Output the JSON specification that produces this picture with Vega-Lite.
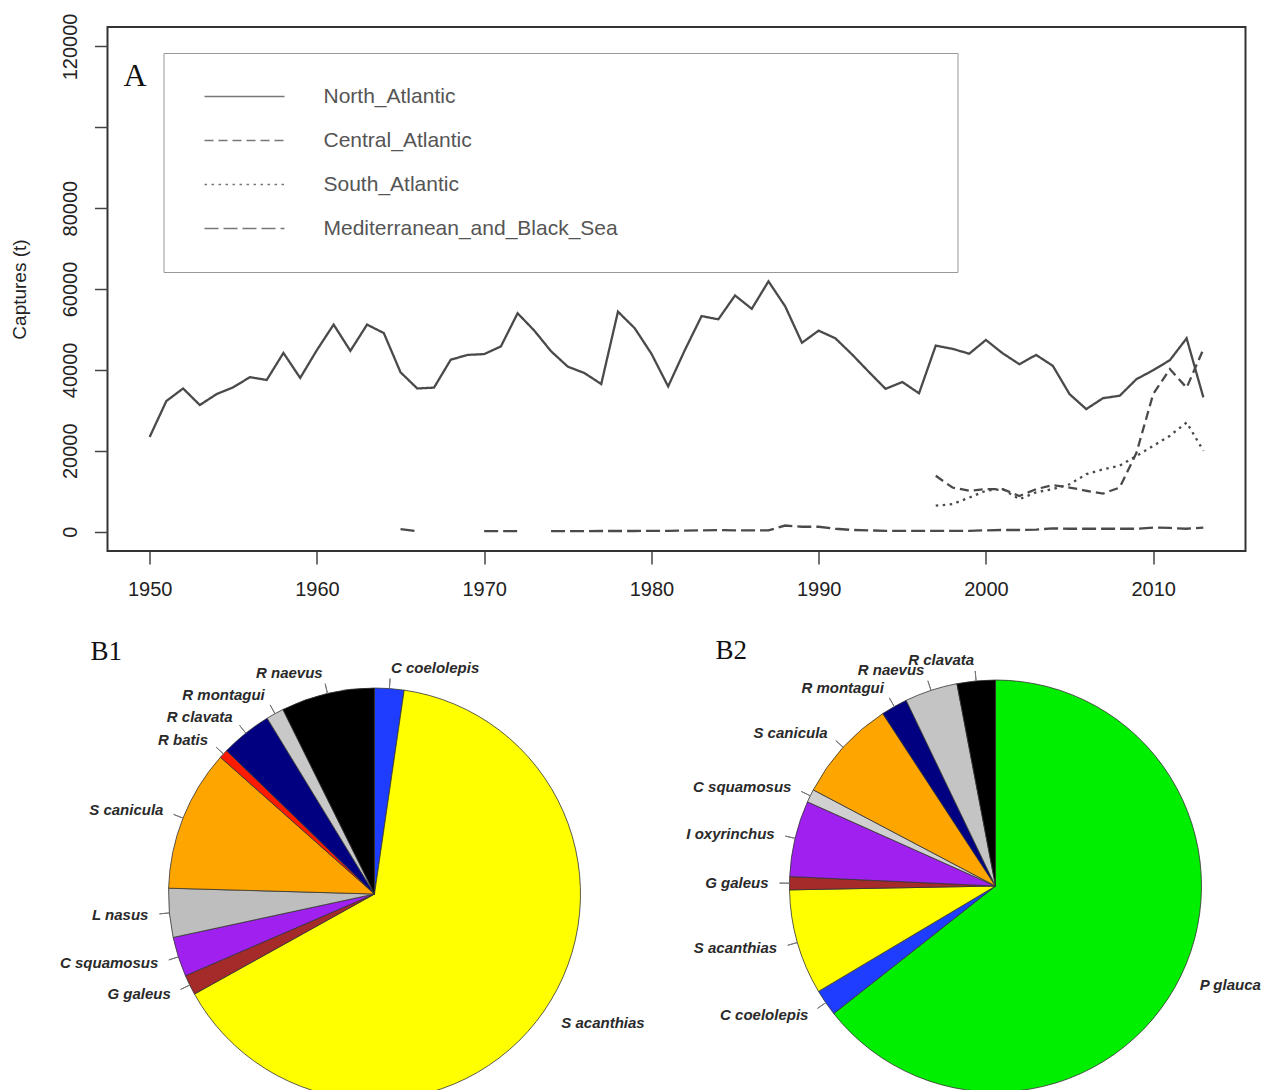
{
  "$schema": "https://vega.github.io/schema/vega-lite/v6.json",
  "padding": {"left": 8.5, "top": 12, "right": 5, "bottom": 0},
  "background": "white",
  "config": {"view": {"stroke": null}, "font": "Liberation Sans"},
  "datasets": {
    "lines": [
      {"year": 1950, "region": "North_Atlantic", "t": 23400},
      {"year": 1951, "region": "North_Atlantic", "t": 32300},
      {"year": 1952, "region": "North_Atlantic", "t": 35400},
      {"year": 1953, "region": "North_Atlantic", "t": 31300},
      {"year": 1954, "region": "North_Atlantic", "t": 34000},
      {"year": 1955, "region": "North_Atlantic", "t": 35700},
      {"year": 1956, "region": "North_Atlantic", "t": 38200},
      {"year": 1957, "region": "North_Atlantic", "t": 37500},
      {"year": 1958, "region": "North_Atlantic", "t": 44200},
      {"year": 1959, "region": "North_Atlantic", "t": 38000},
      {"year": 1960, "region": "North_Atlantic", "t": 44900},
      {"year": 1961, "region": "North_Atlantic", "t": 51200},
      {"year": 1962, "region": "North_Atlantic", "t": 44700},
      {"year": 1963, "region": "North_Atlantic", "t": 51200},
      {"year": 1964, "region": "North_Atlantic", "t": 49100},
      {"year": 1965, "region": "North_Atlantic", "t": 39400},
      {"year": 1966, "region": "North_Atlantic", "t": 35400},
      {"year": 1967, "region": "North_Atlantic", "t": 35600},
      {"year": 1968, "region": "North_Atlantic", "t": 42500},
      {"year": 1969, "region": "North_Atlantic", "t": 43700},
      {"year": 1970, "region": "North_Atlantic", "t": 43900},
      {"year": 1971, "region": "North_Atlantic", "t": 45800},
      {"year": 1972, "region": "North_Atlantic", "t": 54000},
      {"year": 1973, "region": "North_Atlantic", "t": 49700},
      {"year": 1974, "region": "North_Atlantic", "t": 44600},
      {"year": 1975, "region": "North_Atlantic", "t": 40800},
      {"year": 1976, "region": "North_Atlantic", "t": 39200},
      {"year": 1977, "region": "North_Atlantic", "t": 36500},
      {"year": 1978, "region": "North_Atlantic", "t": 54400},
      {"year": 1979, "region": "North_Atlantic", "t": 50300},
      {"year": 1980, "region": "North_Atlantic", "t": 44000},
      {"year": 1981, "region": "North_Atlantic", "t": 35900},
      {"year": 1982, "region": "North_Atlantic", "t": 44900},
      {"year": 1983, "region": "North_Atlantic", "t": 53300},
      {"year": 1984, "region": "North_Atlantic", "t": 52500},
      {"year": 1985, "region": "North_Atlantic", "t": 58400},
      {"year": 1986, "region": "North_Atlantic", "t": 55100},
      {"year": 1987, "region": "North_Atlantic", "t": 61900},
      {"year": 1988, "region": "North_Atlantic", "t": 55700},
      {"year": 1989, "region": "North_Atlantic", "t": 46700},
      {"year": 1990, "region": "North_Atlantic", "t": 49700},
      {"year": 1991, "region": "North_Atlantic", "t": 47800},
      {"year": 1992, "region": "North_Atlantic", "t": 43800},
      {"year": 1993, "region": "North_Atlantic", "t": 39500},
      {"year": 1994, "region": "North_Atlantic", "t": 35300},
      {"year": 1995, "region": "North_Atlantic", "t": 37000},
      {"year": 1996, "region": "North_Atlantic", "t": 34200},
      {"year": 1997, "region": "North_Atlantic", "t": 46000},
      {"year": 1998, "region": "North_Atlantic", "t": 45200},
      {"year": 1999, "region": "North_Atlantic", "t": 44000},
      {"year": 2000, "region": "North_Atlantic", "t": 47400},
      {"year": 2001, "region": "North_Atlantic", "t": 44100},
      {"year": 2002, "region": "North_Atlantic", "t": 41400},
      {"year": 2003, "region": "North_Atlantic", "t": 43700},
      {"year": 2004, "region": "North_Atlantic", "t": 41000},
      {"year": 2005, "region": "North_Atlantic", "t": 34000},
      {"year": 2006, "region": "North_Atlantic", "t": 30300},
      {"year": 2007, "region": "North_Atlantic", "t": 33000},
      {"year": 2008, "region": "North_Atlantic", "t": 33600},
      {"year": 2009, "region": "North_Atlantic", "t": 37700},
      {"year": 2010, "region": "North_Atlantic", "t": 39900},
      {"year": 2011, "region": "North_Atlantic", "t": 42400},
      {"year": 2012, "region": "North_Atlantic", "t": 47800},
      {"year": 2013, "region": "North_Atlantic", "t": 33200},
      {"year": 1997, "region": "Central_Atlantic", "t": 13800},
      {"year": 1998, "region": "Central_Atlantic", "t": 10900},
      {"year": 1999, "region": "Central_Atlantic", "t": 10100},
      {"year": 2000, "region": "Central_Atlantic", "t": 10500},
      {"year": 2001, "region": "Central_Atlantic", "t": 10500},
      {"year": 2002, "region": "Central_Atlantic", "t": 8800},
      {"year": 2003, "region": "Central_Atlantic", "t": 10500},
      {"year": 2004, "region": "Central_Atlantic", "t": 11500},
      {"year": 2005, "region": "Central_Atlantic", "t": 10900},
      {"year": 2006, "region": "Central_Atlantic", "t": 10100},
      {"year": 2007, "region": "Central_Atlantic", "t": 9400},
      {"year": 2008, "region": "Central_Atlantic", "t": 10900},
      {"year": 2009, "region": "Central_Atlantic", "t": 19500},
      {"year": 2010, "region": "Central_Atlantic", "t": 34000},
      {"year": 2011, "region": "Central_Atlantic", "t": 40200},
      {"year": 2012, "region": "Central_Atlantic", "t": 35600},
      {"year": 2013, "region": "Central_Atlantic", "t": 45100},
      {"year": 1997, "region": "South_Atlantic", "t": 6400},
      {"year": 1998, "region": "South_Atlantic", "t": 6800},
      {"year": 1999, "region": "South_Atlantic", "t": 8400},
      {"year": 2000, "region": "South_Atlantic", "t": 10100},
      {"year": 2001, "region": "South_Atlantic", "t": 10500},
      {"year": 2002, "region": "South_Atlantic", "t": 8000},
      {"year": 2003, "region": "South_Atlantic", "t": 9700},
      {"year": 2004, "region": "South_Atlantic", "t": 10500},
      {"year": 2005, "region": "South_Atlantic", "t": 11700},
      {"year": 2006, "region": "South_Atlantic", "t": 14200},
      {"year": 2007, "region": "South_Atlantic", "t": 15400},
      {"year": 2008, "region": "South_Atlantic", "t": 16300},
      {"year": 2009, "region": "South_Atlantic", "t": 18700},
      {"year": 2010, "region": "South_Atlantic", "t": 21200},
      {"year": 2011, "region": "South_Atlantic", "t": 23700},
      {"year": 2012, "region": "South_Atlantic", "t": 27000},
      {"year": 2013, "region": "South_Atlantic", "t": 20000},
      {"year": 1965, "region": "Mediterranean_and_Black_Sea", "t": 600},
      {"year": 1966, "region": "Mediterranean_and_Black_Sea", "t": 100},
      {"year": 1967, "region": "Mediterranean_and_Black_Sea", "t": null},
      {"year": 1968, "region": "Mediterranean_and_Black_Sea", "t": null},
      {"year": 1969, "region": "Mediterranean_and_Black_Sea", "t": null},
      {"year": 1970, "region": "Mediterranean_and_Black_Sea", "t": 100},
      {"year": 1971, "region": "Mediterranean_and_Black_Sea", "t": 100},
      {"year": 1972, "region": "Mediterranean_and_Black_Sea", "t": 100},
      {"year": 1973, "region": "Mediterranean_and_Black_Sea", "t": null},
      {"year": 1974, "region": "Mediterranean_and_Black_Sea", "t": 100},
      {"year": 1975, "region": "Mediterranean_and_Black_Sea", "t": 100},
      {"year": 1976, "region": "Mediterranean_and_Black_Sea", "t": 100},
      {"year": 1977, "region": "Mediterranean_and_Black_Sea", "t": 150},
      {"year": 1978, "region": "Mediterranean_and_Black_Sea", "t": 150},
      {"year": 1979, "region": "Mediterranean_and_Black_Sea", "t": 150},
      {"year": 1980, "region": "Mediterranean_and_Black_Sea", "t": 200},
      {"year": 1981, "region": "Mediterranean_and_Black_Sea", "t": 200},
      {"year": 1982, "region": "Mediterranean_and_Black_Sea", "t": 250},
      {"year": 1983, "region": "Mediterranean_and_Black_Sea", "t": 300},
      {"year": 1984, "region": "Mediterranean_and_Black_Sea", "t": 350},
      {"year": 1985, "region": "Mediterranean_and_Black_Sea", "t": 300},
      {"year": 1986, "region": "Mediterranean_and_Black_Sea", "t": 300},
      {"year": 1987, "region": "Mediterranean_and_Black_Sea", "t": 300},
      {"year": 1988, "region": "Mediterranean_and_Black_Sea", "t": 1500},
      {"year": 1989, "region": "Mediterranean_and_Black_Sea", "t": 1200},
      {"year": 1990, "region": "Mediterranean_and_Black_Sea", "t": 1200},
      {"year": 1991, "region": "Mediterranean_and_Black_Sea", "t": 700},
      {"year": 1992, "region": "Mediterranean_and_Black_Sea", "t": 400},
      {"year": 1993, "region": "Mediterranean_and_Black_Sea", "t": 300},
      {"year": 1994, "region": "Mediterranean_and_Black_Sea", "t": 200},
      {"year": 1995, "region": "Mediterranean_and_Black_Sea", "t": 200},
      {"year": 1996, "region": "Mediterranean_and_Black_Sea", "t": 200},
      {"year": 1997, "region": "Mediterranean_and_Black_Sea", "t": 200},
      {"year": 1998, "region": "Mediterranean_and_Black_Sea", "t": 200},
      {"year": 1999, "region": "Mediterranean_and_Black_Sea", "t": 200},
      {"year": 2000, "region": "Mediterranean_and_Black_Sea", "t": 300},
      {"year": 2001, "region": "Mediterranean_and_Black_Sea", "t": 400},
      {"year": 2002, "region": "Mediterranean_and_Black_Sea", "t": 400},
      {"year": 2003, "region": "Mediterranean_and_Black_Sea", "t": 500},
      {"year": 2004, "region": "Mediterranean_and_Black_Sea", "t": 800},
      {"year": 2005, "region": "Mediterranean_and_Black_Sea", "t": 700},
      {"year": 2006, "region": "Mediterranean_and_Black_Sea", "t": 700},
      {"year": 2007, "region": "Mediterranean_and_Black_Sea", "t": 700},
      {"year": 2008, "region": "Mediterranean_and_Black_Sea", "t": 700},
      {"year": 2009, "region": "Mediterranean_and_Black_Sea", "t": 700},
      {"year": 2010, "region": "Mediterranean_and_Black_Sea", "t": 1000},
      {"year": 2011, "region": "Mediterranean_and_Black_Sea", "t": 900},
      {"year": 2012, "region": "Mediterranean_and_Black_Sea", "t": 700},
      {"year": 2013, "region": "Mediterranean_and_Black_Sea", "t": 1000}
    ],
    "b1": [
      {"species": "C coelolepis", "pct": 2.3},
      {"species": "S acanthias", "pct": 64.6},
      {"species": "G galeus", "pct": 1.58},
      {"species": "C squamosus", "pct": 3.11},
      {"species": "L nasus", "pct": 3.83},
      {"species": "S canicula", "pct": 11.1},
      {"species": "R batis", "pct": 0.69},
      {"species": "R clavata", "pct": 4.03},
      {"species": "R montagui", "pct": 1.39},
      {"species": "R naevus", "pct": 7.33}
    ],
    "b2": [
      {"species": "P glauca", "pct": 64.4},
      {"species": "C coelolepis", "pct": 2.08},
      {"species": "S acanthias", "pct": 8.25},
      {"species": "G galeus", "pct": 1.03},
      {"species": "I oxyrinchus", "pct": 5.97},
      {"species": "C squamosus", "pct": 1.03},
      {"species": "S canicula", "pct": 8.06},
      {"species": "R montagui", "pct": 2.08},
      {"species": "R naevus", "pct": 4.14},
      {"species": "R clavata", "pct": 3.0}
    ]
  },
  "vconcat": [
    {
      "width": 1138,
      "height": 524,
      "view": {"stroke": "#333333", "strokeWidth": 2},
      "title": {"text": "A", "anchor": "start", "frame": "group", "font": "Liberation Serif", "fontSize": 32, "fontWeight": "normal", "color": "#111111", "dx": 16, "dy": 105, "offset": 0, "baseline": "alphabetic"},
      "data": {"name": "lines"},
      "mark": {"type": "line", "color": "#4a4a4a", "strokeWidth": 2.3},
      "encoding": {
        "x": {
          "field": "year", "type": "quantitative",
          "scale": {"domain": [1947.48, 2015.52], "nice": false, "zero": false},
          "axis": {"values": [1950, 1960, 1970, 1980, 1990, 2000, 2010], "format": "d", "title": null, "domain": false, "grid": false, "tickSize": 13, "tickWidth": 1.5, "tickColor": "#444444", "labelFontSize": 20, "labelColor": "#222222", "labelPadding": 15, "labelOverlap": false, "labelFlush": false}
        },
        "y": {
          "field": "t", "type": "quantitative",
          "scale": {"domain": [-4800, 124800], "nice": false, "zero": false},
          "axis": {"values": [0, 20000, 40000, 60000, 80000, 100000, 120000], "format": "d", "labelExpr": "datum.value == 100000 ? '' : datum.label", "title": "Captures (t)", "titleFontSize": 19, "titleFontWeight": "normal", "titleColor": "#222222", "titlePadding": 31.5, "labelAngle": -90, "labelAlign": "center", "labelBaseline": "bottom", "labelFontSize": 20, "labelColor": "#222222", "labelPadding": 14, "labelOverlap": false, "labelFlush": false, "domain": false, "grid": false, "tickSize": 13, "tickWidth": 1.5, "tickColor": "#444444"}
        },
        "strokeDash": {
          "field": "region", "type": "nominal",
          "scale": {"domain": ["North_Atlantic", "Central_Atlantic", "South_Atlantic", "Mediterranean_and_Black_Sea"], "range": [[1, 0], [9, 5], [2.5, 4.5], [14, 5]]},
          "legend": {"orient": "none", "legendX": 56, "legendY": 26, "title": " ", "titleOrient": "right", "titlePadding": 307, "titleFontSize": 10, "symbolType": "stroke", "symbolSize": 6400, "symbolStrokeWidth": 1.6, "symbolStrokeColor": "#777777", "clipHeight": 21, "rowPadding": 22, "symbolOffset": 7, "labelOffset": 38, "labelFontSize": 21, "labelColor": "#555555", "labelLimit": 500, "padding": 33, "strokeColor": "#999999", "fillColor": "white"}
        }
      }
    },
    {
      "hconcat": [
        {
          "width": 534,
          "height": 428,
          "title": {"text": "B1", "anchor": "start", "frame": "group", "font": "Liberation Serif", "fontSize": 27, "fontWeight": "normal", "color": "#111111", "dx": -17, "offset": -26, "baseline": "alphabetic"},
          "data": {"name": "b1"},
          "transform": [{"window": [{"op": "row_number", "as": "idx"}]}],
          "encoding": {
            "theta": {"field": "pct", "type": "quantitative", "stack": true},
            "order": {"field": "idx", "type": "quantitative"}
          },
          "layer": [
            {
              "mark": {"type": "arc", "outerRadius": 206, "stroke": "#333333", "strokeWidth": 0.8},
              "encoding": {
                "color": {"field": "species", "type": "nominal", "legend": null,
                  "scale": {"domain": ["C coelolepis", "S acanthias", "G galeus", "C squamosus", "L nasus", "S canicula", "R batis", "R clavata", "R montagui", "R naevus"],
                            "range": ["#1f3dff", "#ffff00", "#a52a2a", "#a020f0", "#bebebe", "#ffa500", "#ff1a00", "#000080", "#c8c8c8", "#000000"]}}
              }
            },
            {
              "mark": {"type": "arc", "innerRadius": 206, "outerRadius": 216, "padAngle": 3, "fillOpacity": 0, "stroke": "#777777", "strokeWidth": 1},
              "encoding": {"strokeOpacity": {"condition": {"test": "datum.pct > 50", "value": 0}, "value": 1}}
            },
            {
              "mark": {"type": "text", "radius": 227, "fontSize": 15, "fontStyle": "italic", "fontWeight": "bold", "color": "#2a2a2a", "baseline": "middle", "align": {"expr": "datum.pct_start + datum.pct_end > 100 ? 'right' : 'left'"}},
              "encoding": {"text": {"field": "species", "type": "nominal"}}
            }
          ]
        },
        {
          "width": 534,
          "height": 412,
          "title": {"text": "B2", "anchor": "start", "frame": "group", "font": "Liberation Serif", "fontSize": 27, "fontWeight": "normal", "color": "#111111", "dx": -13, "offset": -33, "baseline": "alphabetic"},
          "data": {"name": "b2"},
          "transform": [{"window": [{"op": "row_number", "as": "idx"}]}],
          "encoding": {
            "theta": {"field": "pct", "type": "quantitative", "stack": true},
            "order": {"field": "idx", "type": "quantitative"}
          },
          "layer": [
            {
              "mark": {"type": "arc", "outerRadius": 206, "stroke": "#333333", "strokeWidth": 0.8},
              "encoding": {
                "color": {"field": "species", "type": "nominal", "legend": null,
                  "scale": {"domain": ["P glauca", "C coelolepis", "S acanthias", "G galeus", "I oxyrinchus", "C squamosus", "S canicula", "R montagui", "R naevus", "R clavata"],
                            "range": ["#00ee00", "#1f3dff", "#ffff00", "#a52a2a", "#a020f0", "#d0d0d0", "#ffa500", "#000080", "#c4c4c4", "#000000"]}}
              }
            },
            {
              "mark": {"type": "arc", "innerRadius": 206, "outerRadius": 216, "padAngle": 3, "fillOpacity": 0, "stroke": "#777777", "strokeWidth": 1},
              "encoding": {"strokeOpacity": {"condition": {"test": "datum.pct > 50", "value": 0}, "value": 1}}
            },
            {
              "mark": {"type": "text", "radius": 227, "fontSize": 15, "fontStyle": "italic", "fontWeight": "bold", "color": "#2a2a2a", "baseline": "middle", "align": {"expr": "datum.pct_start + datum.pct_end > 100 ? 'right' : 'left'"}},
              "encoding": {"text": {"field": "species", "type": "nominal"}}
            }
          ]
        }
      ],
      "spacing": 87,
      "bounds": "flush",
      "resolve": {"scale": {"color": "independent", "theta": "independent"}}
    }
  ],
  "spacing": 129,
  "bounds": "flush"
}
